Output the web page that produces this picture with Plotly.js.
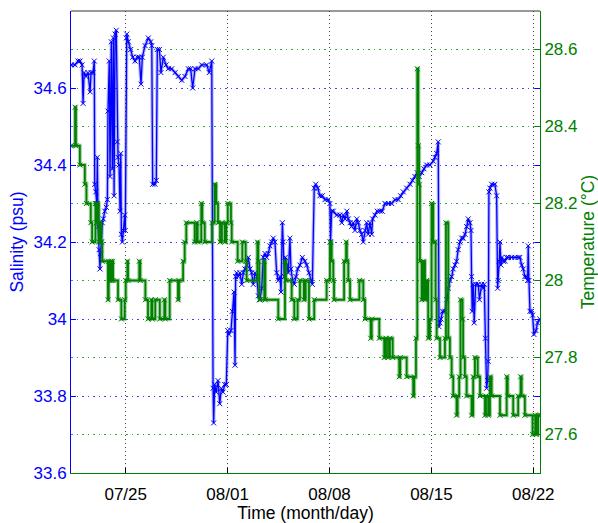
<!DOCTYPE html>
<html>
<head>
<meta charset="utf-8">
<script src="https://cdn.plot.ly/plotly-3.0.1.min.js"></script>
<style>html,body{margin:0;padding:0;background:#fff;}#chart{width:598px;height:523px;}</style>
</head>
<body>
<div id="chart"></div>
<script>
// Time values are expressed as "July day" (32 = Aug 1, 53 = Aug 22), fractional days.
const salDay = [21.24,21.52,21.72,21.86,22.00,22.07,22.14,22.27,22.41,22.55,22.62,22.75,22.84,22.87,22.94,23.01,23.05,23.10,23.17,23.23,23.28,23.32,23.39,23.46,23.56,23.67,23.74,23.78,23.87,23.92,24.01,24.08,24.15,24.20,24.27,24.35,24.42,24.47,24.54,24.61,24.66,24.70,24.77,24.84,24.93,24.97,25.04,25.07,25.18,25.34,25.48,25.64,25.80,25.93,26.05,26.14,26.33,26.55,26.72,26.79,26.85,27.01,27.10,27.17,27.31,27.42,27.58,27.77,27.93,28.16,28.39,28.61,28.85,29.07,29.30,29.46,29.60,29.76,29.99,30.22,30.56,30.74,30.91,31.00,31.04,31.11,31.22,31.34,31.46,31.57,31.68,31.80,31.91,32.01,32.09,32.23,32.32,32.44,32.51,32.55,32.62,32.73,32.85,32.97,33.08,33.19,33.31,33.42,33.54,33.65,33.76,33.88,34.00,34.11,34.22,34.34,34.45,34.57,34.68,34.79,34.91,35.03,35.14,35.25,35.37,35.48,35.60,35.67,35.76,35.82,35.89,35.96,36.06,36.17,36.28,36.35,36.47,36.58,36.70,36.81,36.97,37.13,37.31,37.43,37.59,37.73,37.82,37.95,38.05,38.19,38.34,38.50,38.69,38.91,39.03,39.07,39.15,39.26,39.49,39.72,39.84,39.95,40.07,40.19,40.29,40.41,40.52,40.63,40.75,40.87,40.98,41.09,41.21,41.32,41.44,41.55,41.66,41.78,41.90,41.96,42.12,42.28,42.47,42.62,42.81,43.04,43.27,43.50,43.72,43.89,44.07,44.30,44.53,44.71,44.87,45.03,45.16,45.33,45.49,45.67,45.90,46.13,46.24,46.36,46.47,46.52,46.59,46.66,46.77,46.93,47.05,47.16,47.27,47.39,47.50,47.62,47.73,47.84,47.96,48.08,48.19,48.31,48.42,48.53,48.65,48.72,48.76,48.80,48.87,48.94,49.04,49.22,49.30,49.45,49.56,49.63,49.71,49.79,49.86,49.90,49.95,50.02,50.14,50.36,50.48,50.55,50.59,50.66,50.71,50.78,50.85,50.93,51.05,51.17,51.28,51.51,51.74,51.96,52.08,52.20,52.31,52.42,52.54,52.61,52.65,52.70,52.77,52.88,52.95,53.04,53.18,53.29,53.45];
const salinity = [34.66,34.66,34.67,34.67,34.66,34.56,34.64,34.63,34.64,34.59,34.64,34.64,34.67,34.35,34.33,34.30,34.42,34.24,34.18,34.13,34.17,34.20,34.25,34.26,34.28,34.29,34.31,34.54,34.67,34.37,34.72,34.39,34.73,34.32,34.74,34.75,34.46,34.42,34.40,34.28,34.43,34.22,34.20,34.23,34.27,34.23,34.73,34.74,34.72,34.70,34.68,34.67,34.68,34.68,34.61,34.68,34.71,34.73,34.72,34.71,34.35,34.35,34.36,34.70,34.70,34.64,34.68,34.66,34.65,34.65,34.64,34.63,34.62,34.63,34.65,34.65,34.60,34.65,34.65,34.66,34.66,34.64,34.67,33.82,33.73,33.83,33.81,33.84,33.78,33.82,33.81,33.83,33.83,33.97,33.96,33.97,34.02,34.07,33.88,34.11,34.12,34.11,34.12,34.09,34.12,34.13,34.14,34.16,34.13,34.12,34.09,34.12,34.11,34.06,34.05,34.08,34.16,34.17,34.16,34.17,34.19,34.20,34.21,34.20,34.12,34.10,34.11,34.07,34.25,34.20,34.11,34.16,34.14,34.12,34.21,34.13,34.10,34.09,34.11,34.13,34.14,34.16,34.15,34.14,34.12,34.10,34.09,34.34,34.35,34.34,34.32,34.32,34.31,34.31,34.30,34.20,34.28,34.28,34.27,34.27,34.25,34.27,34.26,34.28,34.26,34.25,34.24,34.25,34.23,34.26,34.25,34.23,34.22,34.20,34.23,34.25,34.22,34.25,34.22,34.26,34.27,34.28,34.28,34.28,34.30,34.30,34.30,34.31,34.31,34.32,34.33,34.34,34.35,34.36,34.37,34.38,34.37,34.38,34.39,34.40,34.40,34.41,34.42,34.43,34.46,33.98,33.99,34.00,34.02,34.02,34.05,34.08,34.10,34.11,34.13,34.14,34.15,34.18,34.20,34.21,34.21,34.22,34.24,34.26,34.25,34.23,34.11,34.02,34.09,33.99,34.09,34.09,34.05,34.09,34.08,34.09,33.95,33.82,33.84,33.89,34.33,34.34,34.35,34.35,34.32,34.08,34.10,34.15,34.20,34.14,34.16,34.15,34.15,34.16,34.16,34.16,34.16,34.16,34.16,34.14,34.13,34.11,34.11,34.10,34.19,34.10,34.02,34.02,34.01,33.96,33.97,33.99,34.00,34.01];

const tempDay = [21.24,21.52,21.58,21.85,22.19,22.30,22.60,22.69,22.92,22.99,23.05,23.15,23.22,23.32,23.39,23.78,23.83,23.92,23.97,24.04,24.08,24.13,24.47,24.70,24.93,25.00,25.11,25.16,25.93,26.00,26.35,26.53,26.76,26.83,27.03,27.34,27.65,27.72,28.02,28.59,28.66,28.94,29.05,29.16,29.74,29.88,29.94,30.19,30.26,30.43,30.93,31.11,31.22,31.34,31.48,31.61,31.80,31.91,32.01,32.23,32.28,32.69,33.01,33.24,33.31,34.04,34.11,34.18,34.52,34.59,35.48,35.94,36.01,36.40,36.58,36.81,36.97,37.24,37.36,37.59,37.95,38.80,39.03,39.15,39.26,39.31,40.00,40.14,40.19,40.29,40.41,41.05,41.32,41.44,41.83,41.90,42.42,42.76,42.88,43.02,43.15,43.34,43.79,43.86,44.30,44.75,44.82,44.94,45.03,45.10,45.16,45.21,45.33,45.44,45.56,45.67,45.78,45.90,46.01,46.13,46.24,46.29,46.36,46.59,46.93,47.00,47.16,47.27,47.39,47.50,47.73,47.80,47.91,48.00,48.14,48.18,48.30,48.42,48.76,48.87,48.99,49.18,49.34,49.68,49.75,49.90,50.02,50.14,50.71,51.17,51.24,51.62,51.96,52.13,52.20,52.42,52.95,53.13,53.20,53.33,53.45];
const temperature = [28.35,28.45,28.35,28.30,28.25,28.20,28.15,28.10,28.20,28.15,28.20,28.10,28.15,28.10,28.05,27.95,28.05,28.00,28.05,28.00,28.05,28.00,27.95,27.90,27.95,28.00,28.05,28.00,28.05,28.00,27.95,27.90,27.95,27.90,27.95,27.90,27.95,27.90,28.00,27.95,28.00,28.05,28.10,28.15,28.10,28.15,28.10,28.20,28.15,28.10,28.15,28.25,28.20,28.15,28.10,28.15,28.10,28.15,28.20,28.15,28.10,28.05,28.10,28.05,28.00,28.10,28.05,27.95,28.05,27.95,27.90,28.05,28.00,27.95,27.90,27.95,28.00,27.95,28.00,27.90,27.95,28.00,28.10,28.05,28.00,27.95,28.05,28.10,28.05,28.00,27.95,28.00,27.95,27.90,27.85,27.90,27.85,27.80,27.85,27.80,27.85,27.80,27.75,27.80,27.75,27.70,27.75,27.85,28.55,28.35,28.25,28.05,27.95,28.05,27.95,28.00,27.85,27.90,28.20,28.10,28.10,27.95,27.85,27.80,27.85,28.15,27.85,27.80,27.75,27.70,27.65,27.70,27.75,27.95,27.90,27.80,27.75,27.70,27.65,27.75,27.80,27.75,27.70,27.65,27.70,27.65,27.75,27.70,27.65,27.75,27.70,27.65,27.70,27.75,27.70,27.65,27.60,27.65,27.60,27.65,27.65];

const tickDays = [25, 32, 39, 46, 53];
const tickLabels = ['07/25', '08/01', '08/08', '08/15', '08/22'];
const salTicks = [33.6, 33.8, 34, 34.2, 34.4, 34.6];
const salTickText = ['33.6', '33.8', '34', '34.2', '34.4', '34.6'];
const tempTicks = [27.6, 27.8, 28, 28.2, 28.4, 28.6];
const tempTickText = ['27.6', '27.8', '28', '28.2', '28.4', '28.6'];
const xRangeDays = [21.24, 53.46];

function toDate(d) {
  const ms = Date.UTC(2013, 6, 1) + (d - 1) * 86400000;
  return new Date(ms).toISOString().slice(0, 19).replace('T', ' ');
}

const BLUE = '#0000ff', GREEN = '#008000';
const FONT = 'Liberation Sans, Arial, sans-serif';
const salX = salDay.map(toDate), tempX = tempDay.map(toDate);

const traces = [
  { // soft halo under salinity line
    x: salX, y: salinity, yaxis: 'y', type: 'scatter', mode: 'lines',
    line: {color: 'rgba(60,60,255,0.35)', width: 3.5},
    hoverinfo: 'skip', showlegend: false
  },
  { // soft halo under temperature line
    x: tempX, y: temperature, yaxis: 'y2', type: 'scatter', mode: 'lines',
    line: {color: 'rgba(0,128,0,0.35)', width: 4, shape: 'hv'},
    hoverinfo: 'skip', showlegend: false
  },
  {
    x: salX, y: salinity, yaxis: 'y', type: 'scatter', mode: 'lines+markers',
    line: {color: BLUE, width: 1.3},
    marker: {symbol: 'x-thin', size: 5, color: BLUE, line: {width: 1, color: BLUE}},
    hoverinfo: 'skip', showlegend: false
  },
  {
    x: tempX, y: temperature, yaxis: 'y2', type: 'scatter', mode: 'lines+markers',
    line: {color: GREEN, width: 1.8, shape: 'hv'},
    marker: {symbol: 'x-thin', size: 5, color: GREEN, line: {width: 1, color: GREEN}},
    hoverinfo: 'skip', showlegend: false
  }
];

const layout = {
  width: 598, height: 523,
  margin: {l: 71, r: 58, t: 11, b: 50},
  paper_bgcolor: '#ffffff', plot_bgcolor: '#ffffff',
  font: {family: FONT, size: 16, color: '#000'},
  xaxis: {
    type: 'date',
    range: xRangeDays.map(toDate),
    tickvals: tickDays.map(toDate), ticktext: tickLabels,
    tickfont: {family: FONT, size: 17, color: '#000'},
    ticks: 'inside', ticklen: 5, tickcolor: '#000',
    ticklabelstandoff: 6,
    showgrid: true, gridcolor: 'rgba(0,0,0,0.75)', griddash: '1px,3px', gridwidth: 1,
    showline: true, linecolor: GREEN, linewidth: 1, mirror: false,
    zeroline: false,
    title: {text: 'Time (month/day)', font: {family: FONT, size: 17.5, color: '#000'}, standoff: 3}
  },
  yaxis: {
    range: [33.6, 34.8],
    tickvals: salTicks, ticktext: salTickText,
    tickfont: {family: FONT, size: 17, color: BLUE},
    ticks: 'inside', ticklen: 5, tickcolor: BLUE,
    showgrid: true, gridcolor: 'rgba(0,0,255,0.75)', griddash: '1.5px,4px', gridwidth: 1,
    showline: true, linecolor: BLUE, linewidth: 1, mirror: 'ticks',
    zeroline: false,
    title: {text: 'Salinity (psu)', font: {family: FONT, size: 17.5, color: BLUE}, standoff: 5}
  },
  yaxis2: {
    overlaying: 'y', side: 'right',
    range: [27.5, 28.7],
    tickvals: tempTicks, ticktext: tempTickText,
    tickfont: {family: FONT, size: 17, color: GREEN},
    ticks: 'inside', ticklen: 5, tickcolor: GREEN,
    showgrid: true, gridcolor: 'rgba(0,128,0,0.75)', griddash: '1.5px,4px', gridwidth: 1,
    showline: true, linecolor: GREEN, linewidth: 1,
    zeroline: false,
    title: {text: 'Temperature (°C)', font: {family: FONT, size: 17.5, color: GREEN}, standoff: 8}
  },
  shapes: [
    {type: 'line', xref: 'paper', yref: 'paper', x0: 0, x1: 1, y0: 1, y1: 1, line: {color: '#333', width: 1}}
  ]
};

Plotly.newPlot('chart', traces, layout, {staticPlot: true, displayModeBar: false});
</script>
</body>
</html>
